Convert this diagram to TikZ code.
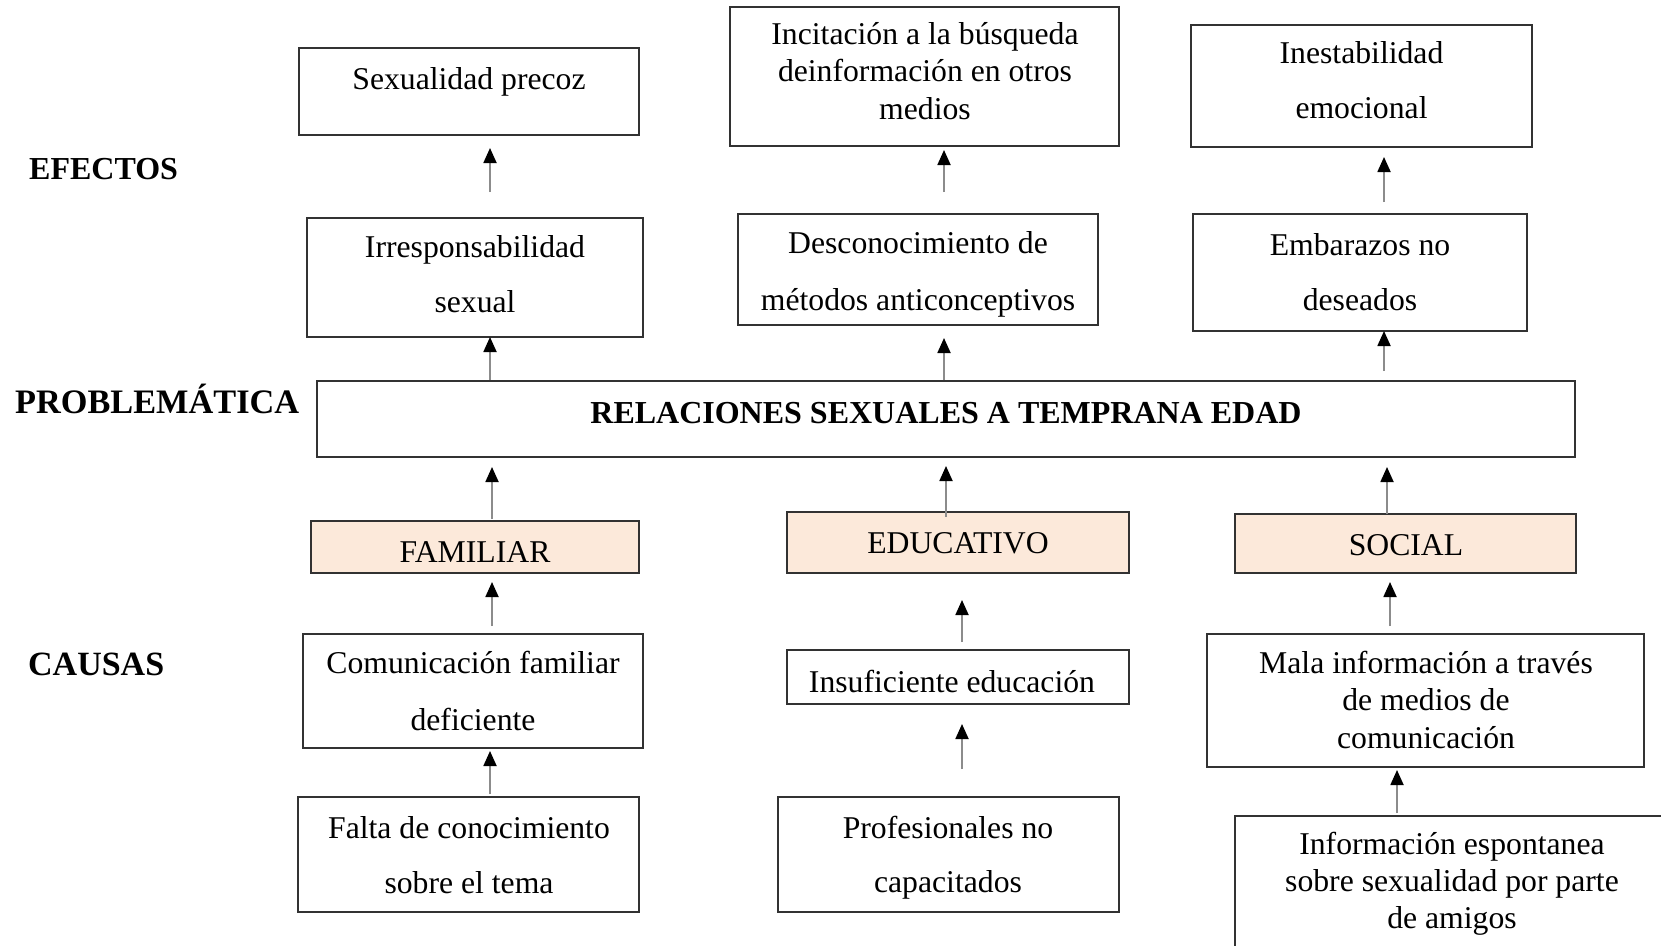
\documentclass[tikz,border=0pt]{standalone}
\usepackage{fontspec}
\setmainfont{Liberation Serif}
\usetikzlibrary{arrows.meta}
\definecolor{peach}{RGB}{252,233,218}
\definecolor{edge}{RGB}{50,50,50}
\definecolor{shaft}{RGB}{140,140,140}
\tikzset{
  box/.style={draw=edge, line width=1.6pt, inner sep=0pt, outer sep=0pt, anchor=north west},
  catbox/.style={box, fill=peach},
  lbl/.style={inner sep=0pt, anchor=base, align=center},
  two/.style={lbl, font=\fontsize{31.7}{55}\selectfont},
  three/.style={lbl, font=\fontsize{31.7}{37.5}\selectfont},
  one/.style={lbl, font=\fontsize{31.7}{38}\selectfont},
  head/.style={inner sep=0pt, anchor=base west, font=\fontsize{32}{38}\selectfont\bfseries},
  arr/.style={draw=shaft, line width=1.8pt, -{Triangle[width=13pt,length=15pt,color=black]}}
}
\begin{document}
\begin{tikzpicture}[x=1pt,y=-1pt]
\useasboundingbox (0,0) rectangle (1661,945);
\clip (0,0) rectangle (1661,945);
\fill[white] (0,0) rectangle (1661,945);

% side headings
\node[head] (hef) at (29,179) {EFECTOS};
\node[head, font=\fontsize{34.3}{40}\selectfont\bfseries] (hpr) at (15,413) {PROBLEMÁTICA};
\node[head, font=\fontsize{34}{40}\selectfont\bfseries] (hca) at (28,675) {CAUSAS};

% effects, top row (multi-line texts are placed by the baseline of their last line)
\node[box, minimum width=340pt, minimum height=87pt] (sp) at (299,48) {};
\node[one] (spt) at (469,89) {Sexualidad precoz};
\node[box, minimum width=389pt, minimum height=139pt] (inc) at (730,7) {};
\node[three] (inct) at (925,119) {Incitación a la búsqueda\\deinformación en otros\\medios};
\node[box, minimum width=341pt, minimum height=122pt] (ine) at (1191,25) {};
\node[two] (inet) at (1361.5,118) {Inestabilidad\\emocional};

% effects, second row
\node[box, minimum width=336pt, minimum height=119pt] (ir) at (307,218) {};
\node[two] (irt) at (475,312) {Irresponsabilidad\\sexual};
\node[box, minimum width=360pt, minimum height=111pt] (des) at (738,214) {};
\node[lbl, font=\fontsize{31.7}{57}\selectfont] (dest) at (918,310) {Desconocimiento de\\métodos anticonceptivos};
\node[box, minimum width=334pt, minimum height=117pt] (emb) at (1193,214) {};
\node[two] (embt) at (1360,310) {Embarazos no\\deseados};

% problem
\node[box, minimum width=1258pt, minimum height=76pt] (rel) at (317,381) {};
\node[lbl, font=\fontsize{32}{38}\selectfont\bfseries] (relt) at (946,423) {RELACIONES SEXUALES A TEMPRANA EDAD};

% categories
\node[catbox, minimum width=328pt, minimum height=52pt] (fam) at (311,521) {};
\node[one] (famt) at (475,562) {FAMILIAR};
\node[catbox, minimum width=342pt, minimum height=61pt] (edu) at (787,512) {};
\node[one] (edut) at (958,553) {EDUCATIVO};
\node[catbox, minimum width=341pt, minimum height=59pt] (soc) at (1235,514) {};
\node[one] (soct) at (1406,555) {SOCIAL};

% causes
\node[box, minimum width=340pt, minimum height=114pt] (com) at (303,634) {};
\node[lbl, font=\fontsize{31.7}{57}\selectfont] (comt) at (473,730) {Comunicación familiar\\deficiente};
\node[box, minimum width=342pt, minimum height=54pt] (ins) at (787,650) {};
\node[one] (inst) at (952,692) {Insuficiente educación};
\node[box, minimum width=437pt, minimum height=133pt] (mal) at (1207,634) {};
\node[three] (malt) at (1426,748) {Mala información a través\\de medios de\\comunicación};

\node[box, minimum width=341pt, minimum height=115pt] (fal) at (298,797) {};
\node[two] (falt) at (469,893) {Falta de conocimiento\\sobre el tema};
\node[box, minimum width=341pt, minimum height=115pt] (pro) at (778,797) {};
\node[lbl, font=\fontsize{31.7}{54}\selectfont] (prot) at (948,892) {Profesionales no\\capacitados};
\node[box, minimum width=440pt, minimum height=160pt] (inf) at (1235,816) {};
\node[lbl, font=\fontsize{31.7}{37}\selectfont] (inft) at (1452,928) {Información espontanea\\sobre sexualidad por parte\\de amigos};

% arrow columns
\coordinate (xa) at (490,0);
\coordinate (xb) at (944,0);
\coordinate (xc) at (1384,0);
\coordinate (xd) at (492,0);
\coordinate (xe) at (946,0);
\coordinate (xf) at (1387,0);
\coordinate (xg) at (962,0);
\coordinate (xh) at (1390,0);
\coordinate (xi) at (1397,0);

% arrows
\draw[arr, shorten <=26pt, shorten >=13pt] (ir.north -| xa) -- (sp.south -| xa);
\draw[arr, shorten <=1pt] (rel.north -| xa) -- (ir.south -| xa);
\draw[arr, shorten <=22pt, shorten >=4pt] (des.north -| xb) -- (inc.south -| xb);
\draw[arr, shorten <=1pt, shorten >=13pt] (rel.north -| xb) -- (des.south -| xb);
\draw[arr, shorten <=12pt, shorten >=10pt] (emb.north -| xc) -- (ine.south -| xc);
\draw[arr, shorten <=10pt] (rel.north -| xc) -- (emb.south -| xc);
\draw[arr, shorten <=2pt, shorten >=10pt] (fam.north -| xd) -- (rel.south -| xd);
\draw[arr, shorten <=-5pt, shorten >=9pt] (edu.north -| xe) -- (rel.south -| xe);
\draw[arr, shorten >=10pt] (soc.north -| xf) -- (rel.south -| xf);
\draw[arr, shorten <=8pt, shorten >=9pt] (com.north -| xd) -- (fam.south -| xd);
\draw[arr, shorten <=8pt, shorten >=27pt] (ins.north -| xg) -- (edu.south -| xg);
\draw[arr, shorten <=28pt, shorten >=20pt] (pro.north -| xg) -- (ins.south -| xg);
\draw[arr, shorten <=8pt, shorten >=9pt] (mal.north -| xh) -- (soc.south -| xh);
\draw[arr, shorten <=3pt, shorten >=3pt] (inf.north -| xi) -- (mal.south -| xi);
\draw[arr, shorten <=3pt, shorten >=3pt] (fal.north -| xa) -- (com.south -| xa);
\end{tikzpicture}
\end{document}
